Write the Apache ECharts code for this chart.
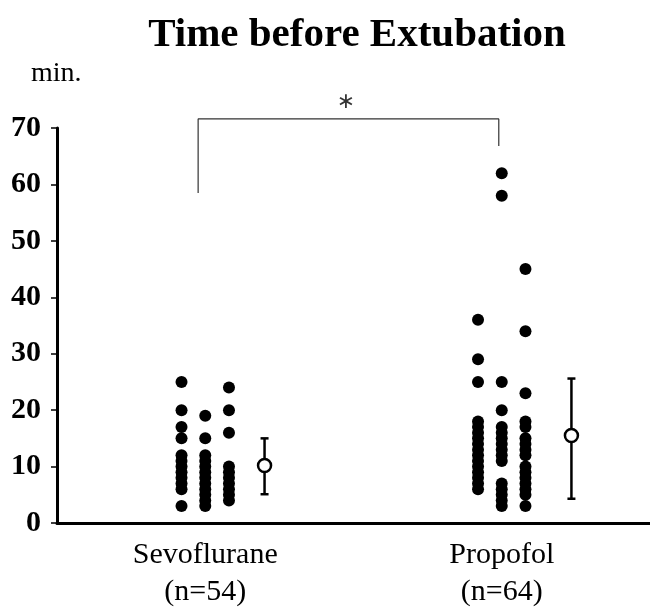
<!DOCTYPE html>
<html>
<head>
<meta charset="utf-8">
<script src="https://cdn.jsdelivr.net/npm/echarts@6/dist/echarts.min.js"></script>
<style>
  html, body { margin:0; padding:0; background:#fff; }
  #chart { width:650px; height:607px; }
</style>
</head>
<body>
<div id="chart"></div>
<script>
var groups = ['Sevoflurane\n(n=54)', 'Propofol\n(n=64)'];

// individual values (min), three dot columns per group
var sevoCol1 = [25, 20, 17, 15, 12, 11, 10, 9, 8, 7, 6, 3];
var sevoCol2 = [19, 15, 12, 11, 10, 9, 8, 7, 6, 5, 4, 3];
var sevoCol3 = [24, 20, 16, 10, 9, 8, 7, 6, 5, 4];
var propCol1 = [36, 29, 25, 18, 17, 16, 15, 14, 13, 12, 11, 10, 9, 8, 7, 6];
var propCol2 = [62, 58, 25, 20, 17, 16, 15, 14, 13, 12, 11, 7, 6, 5, 4, 3];
var propCol3 = [45, 34, 23, 18, 17, 15, 14, 13, 12, 10, 9, 8, 7, 6, 5, 3];

// mean and lower / upper end of the bar
var means = [10.2, 15.5];
var barLow = [5.1, 4.3];
var barHigh = [15.0, 25.6];

var yTicks = [0, 10, 20, 30, 40, 50, 60, 70];

// layout offsets on the hidden value axis (group index units)
var colOffset = [-0.08, 0, 0.08];
var meanOffset = [0.2, 0.235];

function colPoints(vals, g, c) {
    var out = [];
    for (var i = 0; i < vals.length; i++) out.push([g + colOffset[c], vals[i]]);
    return out;
}

var dots = []
    .concat(colPoints(sevoCol1, 0, 0))
    .concat(colPoints(sevoCol2, 0, 1))
    .concat(colPoints(sevoCol3, 0, 2))
    .concat(colPoints(propCol1, 1, 0))
    .concat(colPoints(propCol2, 1, 1))
    .concat(colPoints(propCol3, 1, 2));

var meanPts = [], barPts = [];
for (var g = 0; g < means.length; g++) {
    meanPts.push([g + meanOffset[g], means[g]]);
    barPts.push([g + meanOffset[g], barLow[g], barHigh[g]]);
}

var serif = '"Liberation Serif", "DejaVu Serif", serif';
var chart = echarts.init(document.getElementById('chart'));

var option = {
    animation: false,
    backgroundColor: '#fff',
    title: {
        text: 'Time before Extubation',
        left: 352, top: 10, textAlign: 'center',
        textStyle: { fontFamily: serif, fontSize: 41, fontWeight: 'bold', color: '#000' }
    },
    graphic: [{
        type: 'text', left: 31, top: 60,
        style: { text: 'min.', font: '28px ' + serif, fill: '#000' }
    }],
    grid: { left: 57, right: 0, top: 128, bottom: 84, outerBoundsMode: 'none' },
    xAxis: [{
        type: 'category',
        data: groups,
        boundaryGap: true,
        axisLine: { lineStyle: { color: '#000', width: 3 } },
        axisTick: { alignWithLabel: true, length: 4, lineStyle: { color: '#555', width: 1 } },
        axisLabel: { fontFamily: serif, fontSize: 30, color: '#000', lineHeight: 37, margin: 14 },
        splitLine: { show: false }
    }, {
        type: 'value', min: -0.5, max: 1.5, show: false
    }],
    yAxis: {
        type: 'value', min: 0, max: 70, interval: 10,
        axisLine: { show: true, onZero: false, lineStyle: { color: '#000', width: 3 } },
        axisTick: { show: true, length: 6, lineStyle: { color: '#000', width: 1.5 } },
        axisLabel: {
            fontFamily: serif, fontSize: 30, fontWeight: 'bold', color: '#000', margin: 16,
            formatter: function (v) { return yTicks.indexOf(v) >= 0 ? String(v) : ''; }
        },
        splitLine: { show: false }
    },
    series: [{
        type: 'scatter', xAxisIndex: 1,
        data: dots, symbolSize: 12,
        itemStyle: { color: '#000', opacity: 1 }
    }, {
        type: 'custom', xAxisIndex: 1,
        data: barPts,
        renderItem: function (params, api) {
            var lo = api.coord([api.value(0), api.value(1)]);
            var hi = api.coord([api.value(0), api.value(2)]);
            var w = 4;
            var st = { stroke: '#000', lineWidth: 2.5 };
            return {
                type: 'group',
                children: [
                    { type: 'line', shape: { x1: lo[0], y1: lo[1], x2: hi[0], y2: hi[1] }, style: st },
                    { type: 'line', shape: { x1: lo[0] - w, y1: lo[1], x2: lo[0] + w, y2: lo[1] }, style: st },
                    { type: 'line', shape: { x1: hi[0] - w, y1: hi[1], x2: hi[0] + w, y2: hi[1] }, style: st }
                ]
            };
        },
        z: 3
    }, {
        type: 'scatter', xAxisIndex: 1,
        data: meanPts, symbolSize: 13,
        itemStyle: { color: '#fff', borderColor: '#000', borderWidth: 2.5, opacity: 1 },
        z: 4
    }, {
        // significance bracket
        type: 'line', xAxisIndex: 1, clip: false,
        data: [[-0.024, 58.5], [-0.024, 71.6], [0.99, 71.6], [0.99, 66.8]],
        symbol: 'none',
        lineStyle: { color: '#333', width: 1.2 }
    }, {
        type: 'scatter', xAxisIndex: 1, clip: false,
        data: [[0.475, 74.6]], symbolSize: 0,
        label: {
            show: true, position: 'inside', formatter: '\u2217',
            fontFamily: '"DejaVu Sans", sans-serif', fontSize: 22, color: '#000'
        }
    }]
};

chart.setOption(option);
</script>
</body>
</html>
